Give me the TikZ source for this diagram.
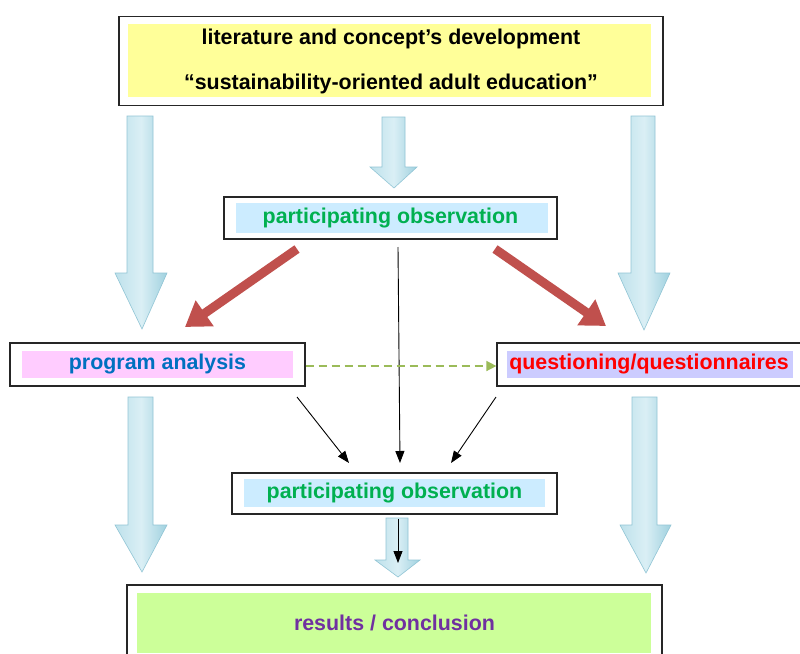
\documentclass[tikz,border=0pt]{standalone}
\usepackage{fontspec}
\setmainfont{Liberation Sans}
\usetikzlibrary{arrows.meta}
\definecolor{yellowfill}{RGB}{255,255,153}
\definecolor{bluefill}{RGB}{204,236,255}
\definecolor{pinkfill}{RGB}{255,204,255}
\definecolor{lavfill}{RGB}{204,204,255}
\definecolor{greenfill}{RGB}{204,255,153}
\definecolor{txtgreen}{RGB}{0,176,80}
\definecolor{txtblue}{RGB}{0,112,192}
\definecolor{txtpurple}{RGB}{112,48,160}
\definecolor{redarrow}{RGB}{192,80,77}
\definecolor{dashgreen}{RGB}{155,187,89}
\definecolor{arrL}{RGB}{190,225,235}
\definecolor{arrM}{RGB}{218,239,245}
\definecolor{arrR}{RGB}{160,209,223}
\definecolor{arrE}{RGB}{145,197,213}
\newcommand\fatarrow[8]{%
  \shadedraw[bigarrow] (#1,#3) -- (#2,#3) -- (#2,#4) -- (#6,#4) -- (#7,#8) -- (#5,#4) -- (#1,#4) -- cycle;}
\begin{document}
\begin{tikzpicture}[x=1pt,y=-1pt,
  frame/.style={draw=black!85, line width=1.2pt, inner sep=0pt,
    font=\fontsize{21.4}{25}\selectfont\bfseries},
  bigarrow/.style={left color=arrL, right color=arrR, middle color=arrM, draw=arrE, line width=0.6pt},
  redarr/.style={draw=redarrow, line width=9pt, -{Triangle[width=30pt,length=24pt]}},
  thinarr/.style={draw=black, line width=0.9pt, -{Triangle[width=9pt,length=12pt]}},
  dasharr/.style={draw=dashgreen, line width=1.5pt, dash pattern=on 8pt off 5pt,
    -{Triangle[width=10pt,length=10pt]}}]
\useasboundingbox (0,0) rectangle (800,653);
\fill[white] (0,0) rectangle (800,653);

% inner fills
\fill[yellowfill] (128,24) rectangle (651,97);
\fill[bluefill] (236,203) rectangle (548,233);
\fill[pinkfill] (22,351) rectangle (293,378);
\fill[lavfill] (507,351) rectangle (793,378);
\fill[bluefill] (244,479) rectangle (545,507);
\fill[greenfill] (137,593) rectangle (651,653);

% boxes
\node[frame, minimum width=544pt, minimum height=89pt, align=center,
  font=\fontsize{21.4}{45}\selectfont\bfseries] (lit) at (391,61)
  {literature and concept’s development\\“sustainability-oriented adult education”};
\node[frame, minimum width=333pt, minimum height=42pt, text=txtgreen] (obsA) at (390.5,218)
  {participating observation};
\node[frame, minimum width=295pt, minimum height=43pt, text=txtblue] (prog) at (157.5,364.5)
  {program analysis};
\node[frame, minimum width=304pt, minimum height=43pt, text=red] (quest) at (649,364.5)
  {questioning/questionnaires};
\node[frame, minimum width=325pt, minimum height=41pt, text=txtgreen] (obsB) at (394.5,493.5)
  {participating observation};
\node[frame, minimum width=535pt, minimum height=75pt, text=txtpurple] (res) at (394.5,622.5)
  {results / conclusion};

% big light-blue block arrows
\fatarrow{127}{153}{116}{273}{115}{167}{142}{329}
\fatarrow{382}{405}{117}{167}{370}{417}{394}{188}
\fatarrow{631}{655}{116}{273}{618}{670}{644}{330}
\fatarrow{128}{153}{397}{525}{115}{167}{142}{572}
\fatarrow{632}{657}{397}{525}{620}{671}{646}{573}
\fatarrow{386}{408}{518}{560}{375}{420}{398}{577}

% connector end points
\coordinate (rAs) at (297,249);
\coordinate (rAe) at (185,327);
\coordinate (rBs) at (495,249);
\coordinate (rBe) at (606,326);
\coordinate (vS) at (398,247);
\coordinate (vE) at (400,463);
\coordinate (dAs) at (297,397);
\coordinate (dAe) at (349,463);
\coordinate (dBs) at (496,397);
\coordinate (dBe) at (451,463);
\coordinate (bS) at (398,519);
\coordinate (bE) at (398,563);

% red arrows
\draw[redarr] (rAs) -- (rAe);
\draw[redarr] (rBs) -- (rBe);

% thin black arrows
\draw[thinarr] (vS) -- (vE);
\draw[thinarr] (dAs) -- (dAe);
\draw[thinarr] (dBs) -- (dBe);
\draw[thinarr] (bS) -- (bE);

% dashed green arrow
\draw[dasharr] ([yshift=-1.5pt]prog.east) -- ([yshift=-1.5pt]quest.west);
\end{tikzpicture}
\end{document}
